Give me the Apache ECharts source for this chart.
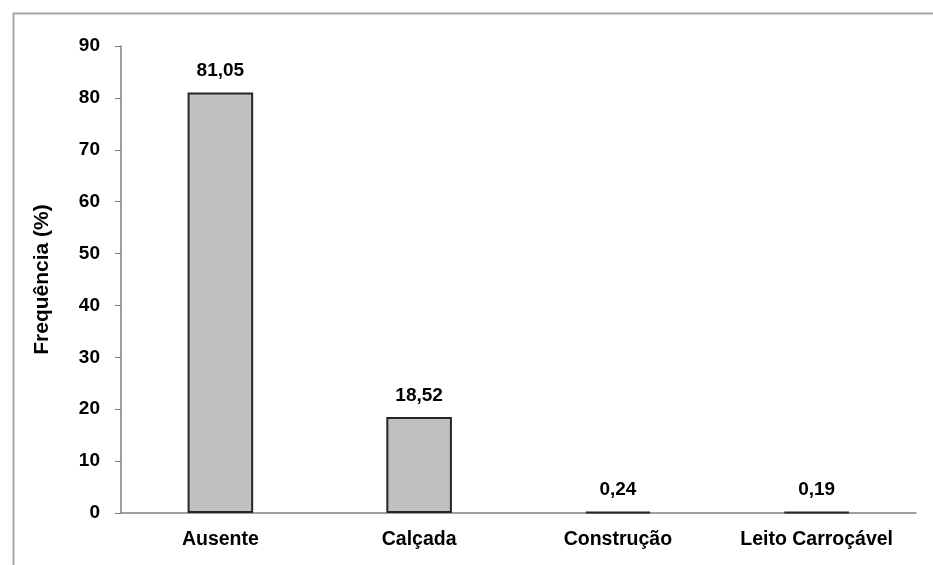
<!DOCTYPE html>
<html>
<head>
<meta charset="utf-8">
<script src="https://cdn.jsdelivr.net/npm/echarts@6/dist/echarts.min.js"></script>
<style>
  html, body { margin: 0; padding: 0; background: #ffffff; }
  #chart { width: 933px; height: 565px; }
</style>
</head>
<body>
<div id="chart"></div>
<script>
// Local de ocorrência (frequência relativa, %)
const categories = ['Ausente', 'Calçada', 'Construção', 'Leito Carroçável'];
const frequencies = [81.05, 18.52, 0.24, 0.19];
const yTicks = { min: 0, max: 90, interval: 10 };

const fontFamily = '"Liberation Sans", Arial, sans-serif';
const chart = echarts.init(document.getElementById('chart'));

chart.setOption({
  backgroundColor: '#ffffff',
  animation: false,
  graphic: [{
    type: 'rect',
    left: 11, top: 11,
    shape: { width: 1000, height: 1000 },
    style: { fill: 'none', stroke: '#a6a6a6', lineWidth: 2 },
    silent: true
  }],
  grid: { left: 121, right: 17, top: 46, bottom: 52 },
  xAxis: {
    type: 'category',
    data: categories,
    axisLine: { lineStyle: { color: '#808080', width: 1.5 } },
    axisTick: { show: false },
    axisLabel: {
      color: '#000', fontWeight: 'bold', fontSize: 19.5,
      fontFamily, margin: 17
    }
  },
  yAxis: {
    type: 'value',
    min: yTicks.min, max: yTicks.max, interval: yTicks.interval,
    name: 'Frequência (%)',
    nameLocation: 'middle',
    nameGap: 68,
    nameRotate: 90,
    nameTextStyle: { color: '#000', fontWeight: 'bold', fontSize: 21, fontFamily },
    axisLine: { show: true, lineStyle: { color: '#808080', width: 1.5 } },
    axisTick: { show: true, length: 6, lineStyle: { color: '#808080' } },
    splitLine: { show: false },
    axisLabel: {
      color: '#000', fontWeight: 'bold', fontSize: 19,
      fontFamily, margin: 21
    }
  },
  series: [{
    type: 'bar',
    data: frequencies,
    barWidth: '33%',
    itemStyle: { color: '#c0c0c0', borderColor: '#262626', borderWidth: 2 },
    label: {
      show: true,
      position: 'top',
      distance: 12,
      color: '#000', fontWeight: 'bold', fontSize: 19, fontFamily,
      formatter: p => p.value.toFixed(2).replace('.', ',')
    }
  }]
});
</script>
</body>
</html>
